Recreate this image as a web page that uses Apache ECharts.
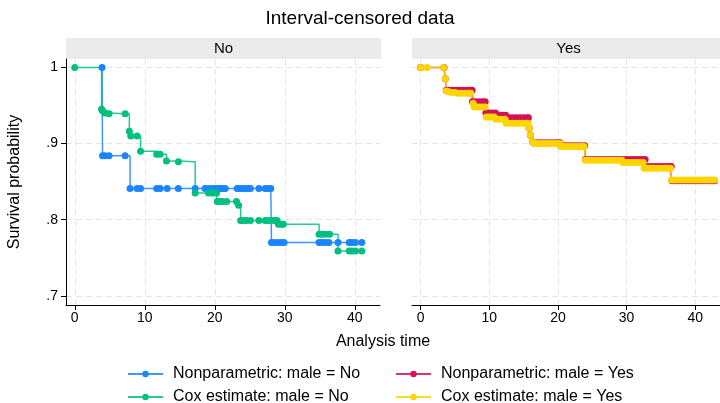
<!DOCTYPE html>
<html>
<head>
<meta charset="utf-8">
<script src="https://cdn.jsdelivr.net/npm/echarts@6/dist/echarts.min.js"></script>
<style>html,body{margin:0;padding:0;background:#fff}#c{width:720px;height:403px}</style>
</head>
<body>
<div id="c"></div>
<script>
// ---- Data ----
const xTicks = [0, 10, 20, 30, 40];
const yTicks = [0.7, 0.8, 0.9, 1];
const panels = ['No', 'Yes'];
const seriesNames = ['Nonparametric: male = No', 'Nonparametric: male = Yes', 'Cox estimate: male = No', 'Cox estimate: male = Yes'];

// Nonparametric, male = No
const npNoTime = [3.9,
  3.97, 4.3, 4.9, 7.2,
  7.9, 8.9, 9.4, 11.7, 12.2, 13.2, 14.8, 17.2, 18.6, 19.1, 19.6, 20.0, 20.4, 20.8, 21.2, 21.5, 23.2, 23.6, 24.0, 24.4, 24.8, 25.1, 26.3, 27.2, 27.6, 28.0,
  28.1, 28.5, 29.0, 29.5, 29.9, 34.9, 35.3, 35.8, 36.3, 37.6, 39.2, 39.6, 40.1, 41.0];
const npNoSurv = [1,
  0.884, 0.884, 0.884, 0.884,
  0.841, 0.841, 0.841, 0.841, 0.841, 0.841, 0.841, 0.841, 0.841, 0.841, 0.841, 0.841, 0.841, 0.841, 0.841, 0.841, 0.841, 0.841, 0.841, 0.841, 0.841, 0.841, 0.841, 0.841, 0.841, 0.841,
  0.770, 0.770, 0.770, 0.770, 0.770, 0.770, 0.770, 0.770, 0.770, 0.770, 0.770, 0.770, 0.770, 0.770];

// Cox estimate, male = No
const coxNoTime = [0, 3.83, 3.97, 4.3, 4.9, 7.2, 7.8, 8.0, 8.9, 9.4, 11.7, 12.2, 13.1, 14.8,
  17.2, 19.1, 19.5, 19.9, 20.25,
  20.35, 20.7, 21.1, 21.7, 23.1, 23.4,
  23.7, 24.1, 24.5, 25.1, 26.3, 27.2, 27.6, 28.0, 28.5, 28.9,
  29.1, 29.5, 29.8,
  34.9, 35.3, 35.8, 36.4,
  37.6, 39.2, 39.6, 40.1, 41.0];
const coxNoSurv = [1, 0.945, 0.943, 0.940, 0.939, 0.939, 0.916, 0.910, 0.910, 0.890, 0.886, 0.886, 0.877, 0.876,
  0.835, 0.835, 0.835, 0.835, 0.835,
  0.824, 0.824, 0.824, 0.824, 0.824, 0.819,
  0.799, 0.799, 0.799, 0.799, 0.799, 0.799, 0.799, 0.799, 0.799, 0.799,
  0.794, 0.794, 0.794,
  0.781, 0.781, 0.781, 0.781,
  0.759, 0.759, 0.759, 0.759, 0.759];

// Nonparametric, male = Yes
const npYesTime = [0, 3.4, 3.6,
  3.75, 4.2, 4.7, 5.2, 5.7, 6.2, 6.7, 7.2, 7.5,
  7.55, 8.0, 8.5, 9.0, 9.4,
  9.5, 9.9, 10.4, 10.9,
  11.0, 11.5, 12.0, 12.4,
  12.5, 13.0, 13.5, 14.0, 14.5, 15.0, 15.5, 15.7,
  15.8, 16.0, 16.3,
  16.6, 17.1, 17.6, 18.1, 18.6, 19.1, 19.6, 20.1, 20.3,
  20.4, 20.9, 21.4, 21.9, 22.4, 22.9, 23.4, 23.9,
  24.0, 24.5, 25.0, 25.5, 26.0, 26.5, 27.0, 27.5, 28.0, 28.5, 29.0, 29.5, 30.0, 30.5, 31.0, 31.5, 32.0, 32.4, 32.7,
  32.8, 33.3, 33.8, 34.3, 34.8, 35.3, 35.8, 36.3, 36.5,
  36.6, 37.1, 37.6, 38.1, 38.6, 39.1, 39.6, 40.1, 40.6, 41.1, 41.6, 42.1, 42.5, 42.8];
const npYesSurv = [1, 1, 0.985,
  0.970, 0.970, 0.970, 0.970, 0.970, 0.970, 0.970, 0.970, 0.970,
  0.955, 0.955, 0.955, 0.955, 0.955,
  0.940, 0.940, 0.940, 0.940,
  0.937, 0.937, 0.937, 0.937,
  0.934, 0.934, 0.934, 0.934, 0.934, 0.934, 0.934, 0.934,
  0.920, 0.911, 0.902,
  0.901, 0.901, 0.901, 0.901, 0.901, 0.901, 0.901, 0.901, 0.901,
  0.897, 0.897, 0.897, 0.897, 0.897, 0.897, 0.897, 0.897,
  0.879, 0.879, 0.879, 0.879, 0.879, 0.879, 0.879, 0.879, 0.879, 0.879, 0.879, 0.879, 0.879, 0.879, 0.879, 0.879, 0.879, 0.879, 0.879,
  0.870, 0.870, 0.870, 0.870, 0.870, 0.870, 0.870, 0.870, 0.870,
  0.851, 0.851, 0.851, 0.851, 0.851, 0.851, 0.851, 0.851, 0.851, 0.851, 0.851, 0.851, 0.851, 0.851];

// Cox estimate, male = Yes
const coxYesTime = [0, 0.95, 3.35, 3.6,
  3.75, 4.1, 4.5, 5.0, 5.5, 6.0, 6.5, 7.0, 7.3,
  7.65, 7.8, 8.2, 8.6, 9.0, 9.4,
  9.55, 9.9, 10.3, 10.7,
  10.95, 11.4, 11.9, 12.3,
  12.45, 12.9, 13.4, 13.9, 14.4, 14.9, 15.4, 15.65,
  15.8, 16.0, 16.3,
  16.6, 17.0, 17.5, 18.0, 18.5, 19.0, 19.5, 20.0, 20.3,
  20.45, 20.9, 21.4, 21.9, 22.4, 22.9, 23.4, 23.8,
  24.0, 24.5, 25.0, 25.5, 26.0, 26.5, 27.0, 27.5, 28.0, 28.5, 29.0, 29.3,
  29.45, 29.9, 30.4, 30.9, 31.4, 31.9, 32.4,
  32.55, 33.0, 33.5, 34.0, 34.5, 35.0, 35.5, 36.0, 36.4,
  36.55, 37.0, 37.5, 38.0, 38.5, 39.0, 39.5, 40.0, 40.5, 41.0, 41.5, 42.0, 42.4, 42.8];
const coxYesSurv = [1, 1, 1, 0.985,
  0.969, 0.968, 0.967, 0.967, 0.966, 0.966, 0.966, 0.966, 0.966,
  0.953, 0.948, 0.948, 0.948, 0.948, 0.948,
  0.935, 0.935, 0.935, 0.935,
  0.932, 0.932, 0.932, 0.932,
  0.9265, 0.9265, 0.9265, 0.9265, 0.9265, 0.9265, 0.9265, 0.9265,
  0.920, 0.911, 0.902,
  0.900, 0.900, 0.900, 0.900, 0.900, 0.900, 0.900, 0.900, 0.900,
  0.896, 0.896, 0.896, 0.896, 0.896, 0.896, 0.896, 0.896,
  0.878, 0.878, 0.878, 0.878, 0.878, 0.878, 0.878, 0.878, 0.878, 0.878, 0.878, 0.878,
  0.875, 0.875, 0.875, 0.875, 0.875, 0.875, 0.875,
  0.8675, 0.8675, 0.8675, 0.8675, 0.8675, 0.8675, 0.8675, 0.8675, 0.8675,
  0.852, 0.852, 0.852, 0.852, 0.852, 0.852, 0.852, 0.852, 0.852, 0.852, 0.852, 0.852, 0.852, 0.852];

// ---- Chart ----
const colors = ['#1a85ff', '#d41159', '#00bf7f', '#ffd400'];
const FONT = 'Liberation Sans, Arial, sans-serif';
const zip = (t, s) => t.map((x, i) => [x, s[i]]);

function xAxisDef(idx) {
  return {
    type: 'value', gridIndex: idx, min: -1.25, max: 43.6,
    axisLine: { show: true, onZero: false, lineStyle: { color: '#000', width: 1 } },
    axisTick: { show: true, length: 5, customValues: xTicks, lineStyle: { color: '#000' } },
    axisLabel: { customValues: xTicks, color: '#000', fontSize: 14, fontFamily: FONT, margin: 6 },
    splitLine: { show: true, lineStyle: { color: '#e6e6e6', type: [6, 4], width: 1 } }
  };
}
function yAxisDef(idx, showAxis) {
  return {
    type: 'value', gridIndex: idx, min: 0.688, max: 1.011,
    axisLine: { show: showAxis, onZero: false, lineStyle: { color: '#000', width: 1 } },
    axisTick: { show: showAxis, length: 5, customValues: yTicks, lineStyle: { color: '#000' } },
    axisLabel: { show: showAxis, customValues: yTicks, color: '#000', fontSize: 14, fontFamily: FONT, margin: 8,
      formatter: v => (Math.abs(v - 1) < 1e-9 ? '1' : String(+v.toFixed(2)).replace(/^0\./, '.')) },
    splitLine: { show: true, lineStyle: { color: '#e6e6e6', type: [6, 4], width: 1 } }
  };
}
function stepSeries(name, data, idx, color) {
  return {
    name, type: 'line', step: 'end', data, xAxisIndex: idx, yAxisIndex: idx,
    symbol: 'circle', symbolSize: 7, showAllSymbol: true, clip: true,
    itemStyle: { color }, lineStyle: { color, width: 1.5, opacity: 0.85 },
    emphasis: { disabled: true }
  };
}
function legendDef(name, left, top) {
  return {
    data: [name], left, top, padding: 0, itemWidth: 35, itemHeight: 8,
    textStyle: { fontSize: 16, fontFamily: FONT, color: '#000', padding: [0, 0, 0, 5] },
    selectedMode: false
  };
}

const chart = echarts.init(document.getElementById('c'), null, { renderer: 'canvas' });
chart.setOption({
  animation: false,
  backgroundColor: '#fff',
  title: { text: 'Interval-censored data', left: 'center', top: 4,
    textStyle: { fontSize: 19, fontWeight: 'normal', color: '#000', fontFamily: FONT } },
  grid: [
    { left: 66, top: 59, width: 314, height: 246 },
    { left: 412, top: 59, width: 313, height: 246 }
  ],
  xAxis: [xAxisDef(0), xAxisDef(1)],
  yAxis: [yAxisDef(0, true), yAxisDef(1, false)],
  legend: [
    legendDef(seriesNames[0], 127, 366),
    legendDef(seriesNames[1], 395, 366),
    legendDef(seriesNames[2], 127, 389),
    legendDef(seriesNames[3], 395, 389)
  ],
  graphic: [
    { type: 'rect', shape: { x: 66, y: 38, width: 315, height: 21 }, style: { fill: '#ebebeb' }, silent: true },
    { type: 'rect', shape: { x: 412, y: 38, width: 313, height: 21 }, style: { fill: '#ebebeb' }, silent: true },
    { type: 'text', x: 223.5, y: 48.5, style: { text: panels[0], fontSize: 15, fontFamily: FONT, fill: '#000', textAlign: 'center', textVerticalAlign: 'middle' }, silent: true },
    { type: 'text', x: 568.5, y: 48.5, style: { text: panels[1], fontSize: 15, fontFamily: FONT, fill: '#000', textAlign: 'center', textVerticalAlign: 'middle' }, silent: true },
    { type: 'text', x: 383, y: 342, style: { text: 'Analysis time', fontSize: 16, fontFamily: FONT, fill: '#000', textAlign: 'center', textVerticalAlign: 'middle' }, silent: true },
    { type: 'text', x: 15, y: 182, rotation: Math.PI / 2, style: { text: 'Survival probability', fontSize: 16, fontFamily: FONT, fill: '#000', textAlign: 'center', textVerticalAlign: 'middle' }, silent: true }
  ],
  series: [
    stepSeries(seriesNames[0], zip(npNoTime, npNoSurv), 0, colors[0]),
    stepSeries(seriesNames[1], zip(npYesTime, npYesSurv), 1, colors[1]),
    stepSeries(seriesNames[2], zip(coxNoTime, coxNoSurv), 0, colors[2]),
    stepSeries(seriesNames[3], zip(coxYesTime, coxYesSurv), 1, colors[3])
  ]
});
</script>
</body>
</html>
